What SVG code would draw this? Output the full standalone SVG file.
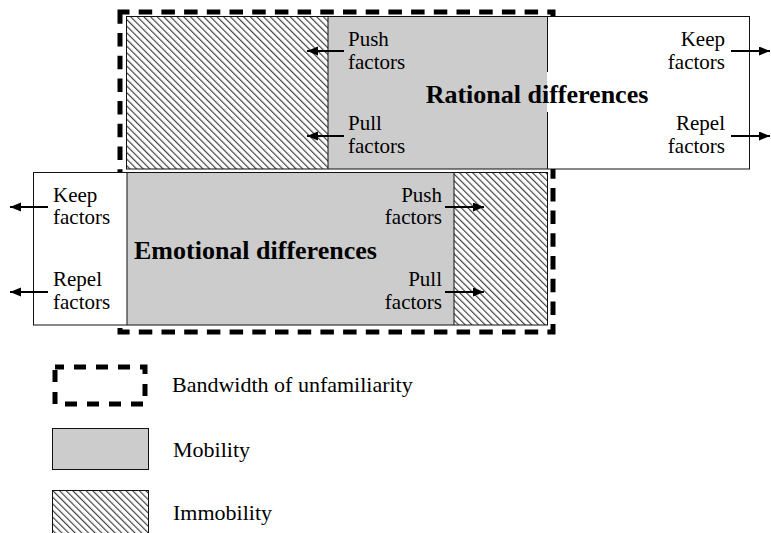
<svg xmlns="http://www.w3.org/2000/svg" width="771" height="533" viewBox="0 0 771 533">
<style>
text{font-family:"Liberation Serif","Times New Roman",serif;fill:#000}
.lbl{font-size:21px}
.big{font-size:26px;font-weight:bold}
.leg{font-size:22px}
.box{stroke:#111;stroke-width:1;fill:none}
.grey{fill:#cccccc}
.hatch{fill:url(#hatch)}
.dash{fill:none;stroke:#000;stroke-width:5;stroke-dasharray:13.5 9.2}
.arr{stroke:#000;stroke-width:1.8;fill:none;marker-end:url(#ah)}
</style>
<defs>
<pattern id="hatch" patternUnits="userSpaceOnUse" width="4.7" height="10" patternTransform="rotate(-45)">
<rect width="4.7" height="10" fill="#fff"/>
<line x1="0.6" y1="0" x2="0.6" y2="10" stroke="#333" stroke-width="1.1"/>
</pattern>
<marker id="ah" markerUnits="userSpaceOnUse" markerWidth="12" markerHeight="10" refX="11" refY="4.5" orient="auto">
<path d="M0,0 L11,4.5 L0,9 z" fill="#000"/>
</marker>
</defs>
<rect width="771" height="533" fill="#fff"/>

<g id="bandwidth">
<path class="dash" d="M120,12 H553 V332 H120 Z" stroke-dashoffset="4"/>
</g>

<g id="rational">
<rect x="126.5" y="16.5" width="623" height="152.5" fill="#fff"/>
<rect class="hatch" x="126.5" y="16.5" width="201.5" height="152.5"/>
<rect class="grey" x="328" y="16.5" width="219" height="152.5"/>
<rect class="box" x="126.5" y="16.5" width="623" height="152.5"/>
<line class="box" x1="328" y1="16.5" x2="328" y2="169"/>
<line class="box" x1="547.5" y1="16.5" x2="547.5" y2="72"/>
<line class="box" x1="547.5" y1="112" x2="547.5" y2="169"/>
<text class="lbl" x="348" y="46">Push</text>
<text class="lbl" x="348" y="69">factors</text>
<text class="lbl" x="348" y="130">Pull</text>
<text class="lbl" x="348" y="153">factors</text>
<text class="lbl" x="725" y="46" text-anchor="end">Keep</text>
<text class="lbl" x="725" y="69" text-anchor="end">factors</text>
<text class="lbl" x="725" y="130" text-anchor="end">Repel</text>
<text class="lbl" x="725" y="153" text-anchor="end">factors</text>
<text class="big" x="537" y="102.5" text-anchor="middle">Rational differences</text>
</g>

<g id="emotional">
<rect x="33.5" y="172.5" width="514" height="152.5" fill="#fff"/>
<rect class="grey" x="127" y="172.5" width="327" height="152.5"/>
<rect class="hatch" x="454" y="172.5" width="93.5" height="152.5"/>
<rect class="box" x="33.5" y="172.5" width="514" height="152.5"/>
<line class="box" x1="127" y1="172.5" x2="127" y2="325"/>
<line class="box" x1="454" y1="172.5" x2="454" y2="325"/>
<text class="lbl" x="53" y="201.5">Keep</text>
<text class="lbl" x="53" y="224">factors</text>
<text class="lbl" x="53" y="285.5">Repel</text>
<text class="lbl" x="53" y="308.5">factors</text>
<text class="lbl" x="442" y="201.5" text-anchor="end">Push</text>
<text class="lbl" x="442" y="224" text-anchor="end">factors</text>
<text class="lbl" x="442" y="285.5" text-anchor="end">Pull</text>
<text class="lbl" x="442" y="308.5" text-anchor="end">factors</text>
<text class="big" x="134" y="259">Emotional differences</text>
</g>

<g id="connectors">
<line class="arr" x1="344" y1="51" x2="307" y2="51"/>
<line class="arr" x1="344" y1="136" x2="307" y2="136"/>
<line class="arr" x1="731" y1="51" x2="770" y2="51"/>
<line class="arr" x1="731" y1="136" x2="770" y2="136"/>
<line class="arr" x1="48" y1="207" x2="10" y2="207"/>
<line class="arr" x1="48" y1="292" x2="10" y2="292"/>
<line class="arr" x1="445" y1="207" x2="484" y2="207"/>
<line class="arr" x1="445" y1="292" x2="484" y2="292"/>
</g>

<g id="legend-bandwidth">
<path d="M55,367 H145 V404 H55 Z" fill="none" stroke="#000" stroke-width="5" stroke-dasharray="12 10" stroke-dashoffset="3"/>
<text class="leg" x="172" y="392">Bandwidth of unfamiliarity</text>
</g>
<g id="legend-mobility">
<rect class="grey" x="52.5" y="428.5" width="96" height="41" stroke="#111" stroke-width="1"/>
<text class="leg" x="173" y="457">Mobility</text>
</g>
<g id="legend-immobility">
<rect class="hatch" x="52.5" y="490.5" width="96" height="50" stroke="#111" stroke-width="1"/>
<text class="leg" x="173" y="520">Immobility</text>
</g>
</svg>
